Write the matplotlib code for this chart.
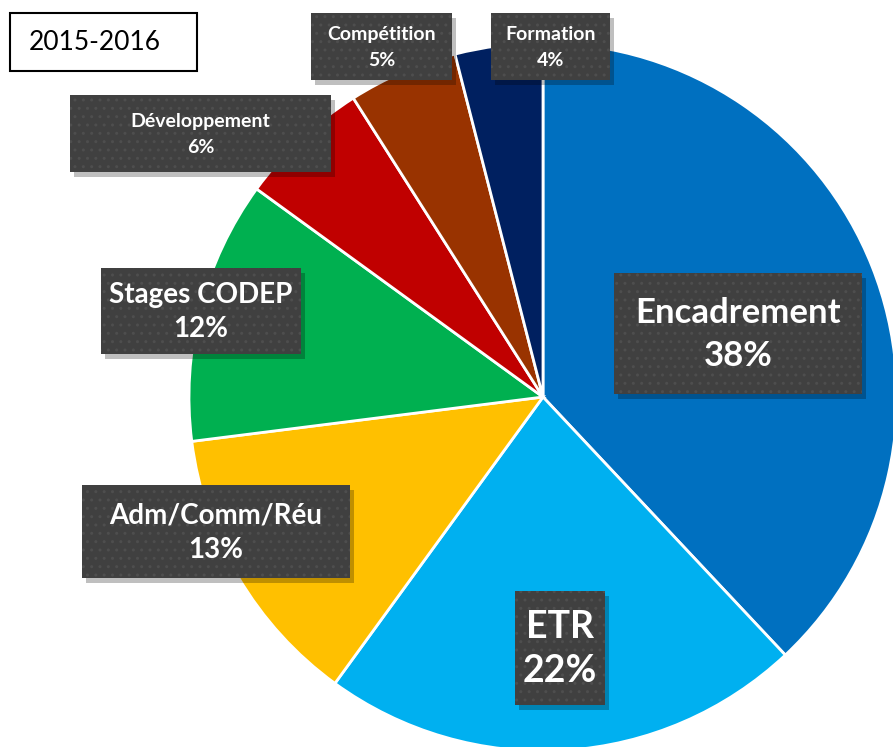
import matplotlib.pyplot as plt
from matplotlib.patches import Rectangle

plt.rcParams['font.family'] = ['Lato', 'DejaVu Sans']

# data (clockwise from top)
categories = ['Encadrement', 'ETR', 'Adm/Comm/Réu', 'Stages CODEP',
              'Développement', 'Compétition', 'Formation']
values = [38, 22, 13, 12, 6, 5, 4]
colors = ['#0070C0', '#00B0F0', '#FFC000', '#00B050',
          '#C00000', '#993300', '#002060']

# label boxes in pixels: (left, top, right, bottom), font size, line spacing
label_boxes = [(614, 273, 862, 394, 25, 1.4),
               (515, 591, 605, 705, 27, 1.35),
               (82, 485, 350, 578, 20, 1.4),
               (101, 268, 301, 354, 20, 1.4),
               (70, 95, 331, 172, 14, 1.65),
               (311, 13, 452, 80, 14, 1.65),
               (491, 13, 610, 80, 14, 1.65)]

W, H = 893, 747
fig = plt.figure(figsize=(W / 100, H / 100), dpi=100)

# pie axes, centre (543, 397) px, radius 354 px
cx, cy, r = 543, 397, 354
ax = fig.add_axes([(cx - r) / W, (H - cy - r) / H, 2 * r / W, 2 * r / H])
wedges, _ = ax.pie(values, colors=colors, startangle=90, counterclock=False,
                   radius=1.0,
                   wedgeprops=dict(edgecolor='white', linewidth=2))
ax.set_xlim(-1, 1)
ax.set_ylim(-1, 1)
ax.set_aspect('equal')
ax.axis('off')

# overlay in pixel coordinates
ov = fig.add_axes([0, 0, 1, 1])
ov.set_xlim(0, W)
ov.set_ylim(H, 0)
ov.axis('off')

for (l, t, rr, b, fs, ls), name, v in zip(label_boxes, categories, values):
    ov.add_patch(Rectangle((l + 4, t + 5), rr - l, b - t, facecolor='black',
                           alpha=0.25, linewidth=0))
    ov.add_patch(Rectangle((l, t), rr - l, b - t, facecolor='#404040',
                           linewidth=0))
    ov.add_patch(Rectangle((l, t), rr - l, b - t, facecolor='none',
                           edgecolor='#4e4e4e', hatch='..', linewidth=0))
    ov.text((l + rr) / 2, (t + b) / 2 + 1, '%s\n%d%%' % (name, v), color='white',
            fontsize=fs, fontweight='bold', ha='center', va='center',
            linespacing=ls)

# title box
ov.add_patch(Rectangle((10, 13), 187, 58, facecolor='white',
                       edgecolor='black', linewidth=1.5))
ov.text(95, 43, '2015-2016', fontsize=19, ha='center', va='center',
        color='black')

fig.savefig('out.png', dpi=100)
